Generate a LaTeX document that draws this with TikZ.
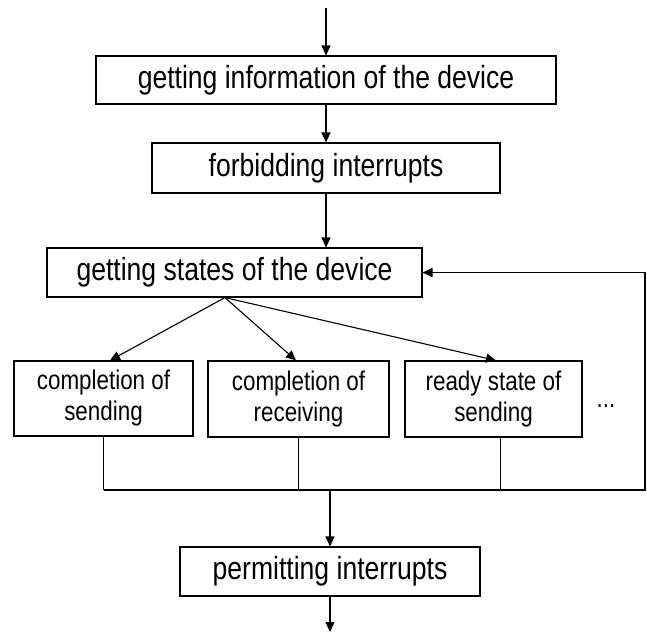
\documentclass[tikz,border=0pt]{standalone}
\usepackage{fontspec}
\setmainfont{Liberation Sans}[FakeStretch=0.83]
\usetikzlibrary{arrows.meta,calc}
\begin{document}
\begin{tikzpicture}[x=1pt,y=-1pt,
  box/.style={draw, line width=1.1pt, inner sep=0pt, align=center, font=\fontsize{32}{36}\selectfont},
  sbox/.style={draw, line width=1.1pt, inner sep=0pt, align=center, font=\fontsize{27}{31}\selectfont},
  arr/.style={line width=1.1pt, -{Triangle[length=10pt,width=9pt]}},
  ln/.style={line width=1.1pt}]
\useasboundingbox (0,0) rectangle (647,633);
\node[box, minimum width=460pt, minimum height=48pt] (b1) at (326,80) {getting information of the device};
\node[box, minimum width=348pt, minimum height=50pt] (b2) at (326,168) {forbidding interrupts};
\node[box, minimum width=375pt, minimum height=49pt] (b3) at (234.5,272.5) {getting states of the device};
\node[sbox, minimum width=179pt, minimum height=75pt] (b4) at (103.5,398.5) {completion of\\sending};
\node[sbox, minimum width=181pt, minimum height=76pt] (b5) at (298.5,399) {completion of\\receiving};
\node[sbox, minimum width=177pt, minimum height=76pt] (b6) at (493.5,399) {ready state of\\sending};
\node[font=\fontsize{27}{31}\selectfont, anchor=base, inner sep=0pt] (dots) at (606,407) {...};
\node[box, minimum width=300pt, minimum height=49pt] (b7) at (330,571.5) {permitting interrupts};
\coordinate (top) at (326,8);
\coordinate (join) at (330,490);
\coordinate (bl) at (103.5,490);
\coordinate (br) at (645,490);
\coordinate (rt) at (645,272.5);
\coordinate (end) at (330,632);
\draw[arr] (top) -- (b1.north);
\draw[arr] (b1.south) -- (b2.north);
\draw[arr] (b2.south) -- (b2.south |- b3.north);
\draw[arr] ([xshift=-9.5pt]b3.south) -- ([xshift=6.5pt]b4.north);
\draw[arr] ([xshift=-9.5pt]b3.south) -- ([xshift=-2.5pt]b5.north);
\draw[arr] ([xshift=-9.5pt]b3.south) -- ([xshift=2.5pt]b6.north);
\draw[ln] (b4.south) -- (bl);
\draw[ln] (b5.south) -- (b5.south |- bl);
\draw[ln] ([xshift=7pt]b6.south) -- ([xshift=7pt]b6.south |- bl);
\draw[arr] (bl) -- (br) -- (rt) -- (b3.east);
\draw[arr] (join) -- (b7.north);
\draw[arr] (b7.south) -- (end);
\end{tikzpicture}
\end{document}
